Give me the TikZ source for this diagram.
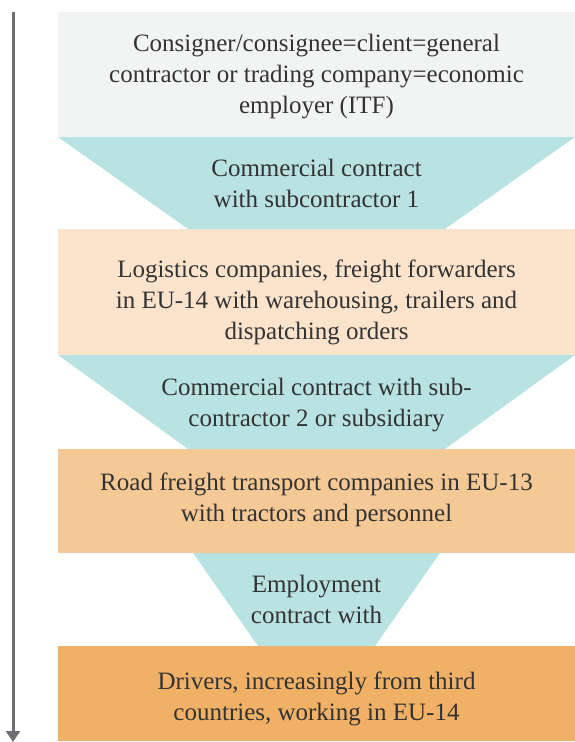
\documentclass[tikz,border=0pt]{standalone}
\usepackage{fontspec}
\setmainfont{Liberation Serif}
\usetikzlibrary{
  calc,
  positioning,
  arrows.meta
}

\definecolor{clientgrey}{HTML}{F2F3F3}
\definecolor{funnelteal}{HTML}{B9E2E3}
\definecolor{lightorange}{HTML}{FBE3CC}
\definecolor{midorange}{HTML}{F4C995}
\definecolor{darkorange}{HTML}{F0B066}
\definecolor{arrowgrey}{HTML}{6D6E71}
\definecolor{textgrey}{HTML}{333333}

\tikzset{
  level/.style = {minimum width=517pt, inner sep=0pt, outer sep=0pt},
  words/.style = {align=center, text=textgrey, font=\fontsize{25}{31}\selectfont},
  funnel/.style = {fill=funnelteal}
}

\begin{document}
\begin{tikzpicture}[x=1pt, y=1pt, node distance = 0pt]
    \useasboundingbox (0,0) rectangle (575,-742);

    % the four levels of the chain
    \node[level, fill=clientgrey, minimum height=125pt] (client) at (316.5,-74.5) {};
    \node[level, fill=lightorange, minimum height=126pt, below = 92pt of client] (logistics) {};
    \node[level, fill=midorange, minimum height=104pt, below = 94pt of logistics] (road) {};
    \node[level, fill=darkorange, minimum height=95pt, below = 93pt of road] (drivers) {};

    % funnels between the levels
    \fill[funnel] (client.south west) -- (client.south east)
        -- ($(logistics.north east)+(-130,0)$) -- ($(logistics.north west)+(130,0)$) -- cycle;
    \fill[funnel] (logistics.south west) -- (logistics.south east)
        -- ($(road.north east)+(-130,0)$) -- ($(road.north west)+(130,0)$) -- cycle;
    \fill[funnel] ($(road.south west)+(135,0)$) -- ($(road.south east)+(-135,0)$)
        -- ($(drivers.north east)+(-200,0)$) -- ($(drivers.north west)+(200,0)$) -- cycle;

    % texts
    \node[words] (clienttext) at ([yshift=-2pt]client.center)
        {Consigner/consignee=client=general\\contractor or trading company=economic\\employer (ITF)};
    \node[words] (logisticstext) at ([yshift=-10pt]logistics.center)
        {Logistics companies, freight forwarders\\in EU-14 with warehousing, trailers and\\dispatching orders};
    \node[words] (roadtext) at ([yshift=1pt]road.center)
        {Road freight transport companies in EU-13\\with tractors and personnel};
    \node[words] (driverstext) at ([yshift=-5pt]drivers.center)
        {Drivers, increasingly from third\\countries, working in EU-14};

    \node[words] (sub1) at ($(client.south)!0.5!(logistics.north)$)
        {Commercial contract\\with subcontractor 1};
    \node[words] (sub2) at ([yshift=-3pt]$(logistics.south)!0.5!(road.north)$)
        {Commercial contract with sub-\\contractor 2 or subsidiary};
    \node[words] (employ) at ($(road.south)!0.5!(drivers.north)$)
        {Employment\\contract with};

    % downward arrow on the left
    \coordinate (start) at (13,-12);
    \coordinate (end) at (13,-742);
    \draw[arrowgrey, line width=3pt, -{Triangle[width=14pt,length=11pt]}] (start) -- (end);
\end{tikzpicture}
\end{document}
